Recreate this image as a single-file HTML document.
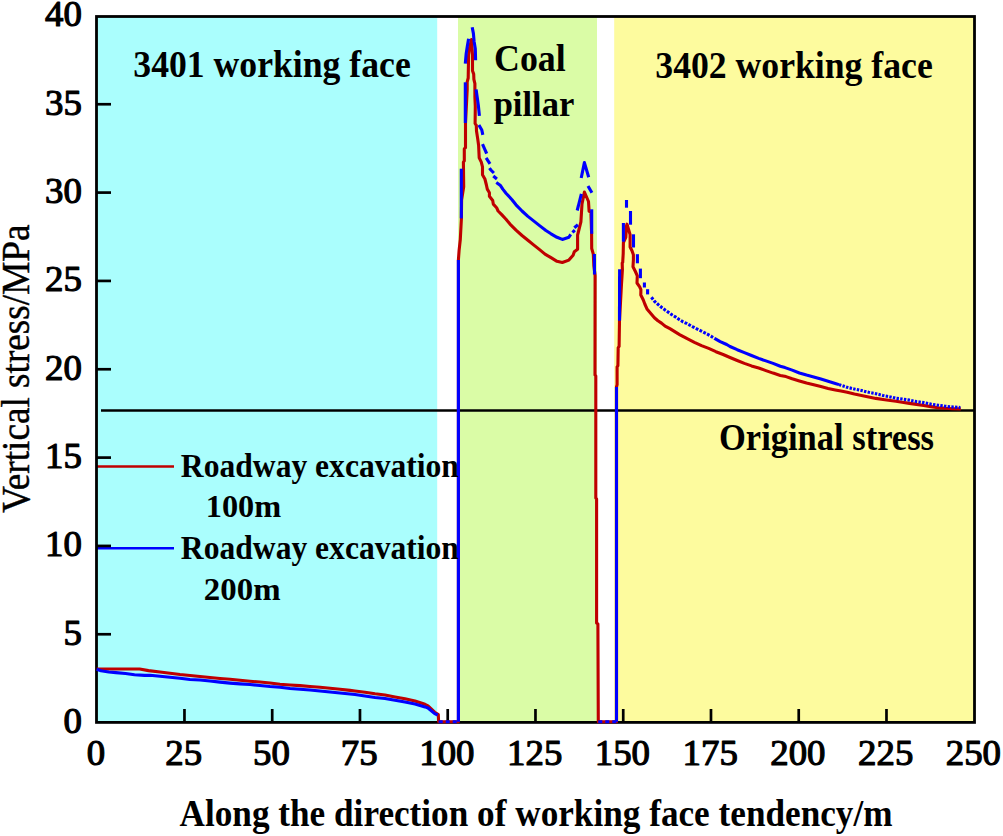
<!DOCTYPE html>
<html><head><meta charset="utf-8"><style>
html,body{margin:0;padding:0;background:#fff;}
svg{display:block;}
.r{font-family:"Liberation Serif",serif;font-weight:normal;fill:#000;stroke:#000;stroke-width:1.2px;stroke-linejoin:round;}
.n{font-family:"Liberation Serif",serif;font-weight:normal;fill:#000;stroke:#000;stroke-width:0.4px;}
.b{font-family:"Liberation Serif",serif;font-weight:bold;fill:#000;}
</style></head><body>
<svg width="1003" height="836" viewBox="0 0 1003 836">
<rect x="96.7" y="16.5" width="340.5" height="706" fill="#aafefd"/>
<rect x="458" y="16.5" width="139" height="706" fill="#dafca6"/>
<rect x="614.2" y="16.5" width="360.3" height="706" fill="#fdfb9e"/>
<line x1="101" y1="410.4" x2="974.5" y2="410.4" stroke="#000" stroke-width="2.5"/>
<line x1="96.7" y1="466.4" x2="174" y2="466.4" stroke="#bf0000" stroke-width="2.5"/>
<line x1="96.7" y1="548.3" x2="174" y2="548.3" stroke="#0000ff" stroke-width="2.5"/>
<line x1="96.7" y1="634.26" x2="111" y2="634.26" stroke="#000" stroke-width="2.7"/>
<line x1="96.7" y1="545.93" x2="111" y2="545.93" stroke="#000" stroke-width="2.7"/>
<line x1="96.7" y1="457.60" x2="111" y2="457.60" stroke="#000" stroke-width="2.7"/>
<line x1="96.7" y1="369.26" x2="111" y2="369.26" stroke="#000" stroke-width="2.7"/>
<line x1="96.7" y1="280.92" x2="111" y2="280.92" stroke="#000" stroke-width="2.7"/>
<line x1="96.7" y1="192.59" x2="111" y2="192.59" stroke="#000" stroke-width="2.7"/>
<line x1="96.7" y1="104.25" x2="111" y2="104.25" stroke="#000" stroke-width="2.7"/>
<line x1="184.46" y1="722.4" x2="184.46" y2="709" stroke="#000" stroke-width="2.7"/>
<line x1="272.21" y1="722.4" x2="272.21" y2="709" stroke="#000" stroke-width="2.7"/>
<line x1="359.97" y1="722.4" x2="359.97" y2="709" stroke="#000" stroke-width="2.7"/>
<line x1="447.72" y1="722.4" x2="447.72" y2="709" stroke="#000" stroke-width="2.7"/>
<line x1="535.47" y1="722.4" x2="535.47" y2="709" stroke="#000" stroke-width="2.7"/>
<line x1="623.23" y1="722.4" x2="623.23" y2="709" stroke="#000" stroke-width="2.7"/>
<line x1="710.98" y1="722.4" x2="710.98" y2="709" stroke="#000" stroke-width="2.7"/>
<line x1="798.73" y1="722.4" x2="798.73" y2="709" stroke="#000" stroke-width="2.7"/>
<line x1="886.48" y1="722.4" x2="886.48" y2="709" stroke="#000" stroke-width="2.7"/>
<rect x="96.5" y="16.5" width="878" height="705.9" fill="none" stroke="#000" stroke-width="2.8"/>
<polyline points="96.7,669.0 139.6,669.0 148.5,670.6 160.0,672.0 170.0,673.2 180.0,674.5 190.0,675.5 200.0,676.5 210.0,677.5 220.0,678.5 230.0,679.3 240.0,680.2 250.0,681.2 260.0,682.0 270.0,683.0 280.0,684.2 290.0,685.0 300.0,685.6 310.0,686.5 320.0,687.3 330.0,688.2 340.0,689.2 350.0,690.4 355.0,691.0 365.0,692.2 375.0,693.8 385.0,695.0 395.0,697.0 405.0,698.8 415.0,701.0 425.0,704.3 428.0,705.8 434.7,712.2 438.3,714.5 438.6,721.8 458.4,721.8 458.4,260.0 459.1,250.3 460.3,239.5 461.4,218.6 461.6,200.0 463.7,186.7 463.5,170.0 463.4,162.1 464.3,160.9 464.3,148.9 465.5,147.7 465.5,123.5 467.2,89.4 467.2,81.8 468.2,78.0 468.6,55.0 469.5,48.0 471.5,39.6 472.5,55.0 472.5,70.8 473.7,74.1 473.9,79.4 474.9,83.7 474.9,97.2 475.3,106.3 475.1,123.5 476.3,125.4 476.5,131.0 477.7,138.8 478.6,145.3 479.2,157.9 481.3,162.1 482.5,166.9 482.5,174.8 484.9,179.0 486.4,185.0 487.3,189.1 489.4,192.7 489.4,196.3 492.7,200.5 493.3,204.1 496.6,207.7 498.1,211.0 501.7,214.6 506.0,219.2 510.0,224.1 516.0,230.1 522.0,235.5 527.9,240.3 533.9,245.1 539.9,249.9 545.0,254.1 551.0,257.7 557.0,261.3 562.3,262.5 568.9,260.1 573.1,255.3 574.3,251.7 577.6,249.3 577.6,235.0 579.1,229.0 580.9,221.8 582.0,204.0 584.4,192.0 588.5,201.5 589.1,211.1 590.9,212.3 591.6,233.8 591.7,248.5 593.3,254.2 593.9,266.1 595.1,275.7 595.0,375.0 595.8,376.0 595.8,498.0 596.6,499.0 596.6,623.0 597.9,624.0 598.3,721.8 616.5,721.8 616.5,387.0 617.1,384.7 617.1,366.8 617.9,365.6 618.2,347.6 619.1,346.4 619.5,320.7 621.5,283.9 622.0,276.3 622.4,269.6 622.2,262.9 622.7,262.3 623.2,253.7 623.4,242.7 625.8,237.4 626.5,226.0 627.0,224.2 629.1,231.2 630.1,234.6 630.1,247.0 632.0,250.8 633.4,254.7 633.4,260.0 633.0,266.7 635.4,271.5 637.3,275.8 637.0,283.0 639.7,286.8 640.9,289.7 640.8,295.0 643.3,300.0 644.8,304.0 647.2,309.3 650.8,313.5 654.4,317.7 657.9,320.7 661.5,323.1 665.1,326.1 669.9,328.7 680.0,334.8 687.2,338.7 694.4,342.3 701.5,345.6 708.7,348.4 715.9,351.7 723.1,354.5 730.0,357.5 737.2,360.5 744.4,363.4 751.5,365.9 758.7,368.0 765.9,370.6 773.1,373.1 780.3,375.4 786.0,376.6 792.2,378.7 799.4,380.9 806.5,383.0 813.7,384.8 820.9,386.6 828.1,388.4 835.3,389.9 841.0,391.0 847.2,392.3 854.4,394.1 861.5,395.5 868.7,397.0 875.9,398.4 883.1,399.5 890.3,400.5 896.0,401.2 902.2,402.3 909.4,403.4 916.5,404.4 923.7,405.5 930.9,406.6 938.1,407.7 945.3,408.3 952.4,408.7 960.8,408.9" fill="none" stroke="#bf0000" stroke-width="3.1" stroke-linejoin="round"/>
<polyline points="96.7,669.3 101.0,670.8 108.8,672.0 115.9,672.6 125.5,673.5 134.5,674.7 144.6,675.4 150.0,675.2 160.0,676.2 170.0,677.2 180.0,678.2 190.0,679.5 200.0,680.0 210.0,681.0 220.0,682.1 230.0,683.1 240.0,683.9 250.0,684.5 260.0,685.5 270.0,686.5 280.0,687.2 290.0,688.5 300.0,689.2 310.0,690.0 320.0,691.0 330.0,692.0 340.0,693.0 345.0,693.5 355.0,694.5 365.0,696.0 375.0,697.5 385.0,698.5 395.0,700.2 405.0,702.0 415.0,704.1 425.0,706.9 428.0,708.0 434.7,713.6 437.7,715.0" fill="none" stroke="#0000ff" stroke-width="3.1" stroke-linejoin="round"/>
<polyline points="438.7,721.8 458.4,721.8" fill="none" stroke="#0000ff" stroke-width="3.1" stroke-linejoin="round" stroke-dasharray="4 3"/>
<polyline points="458.4,721.8 458.4,259.9" fill="none" stroke="#0000ff" stroke-width="3.1" stroke-linejoin="round"/>
<polyline points="461.3,218.4 461.3,168.7" fill="none" stroke="#0000ff" stroke-width="3.1" stroke-linejoin="round"/>
<polyline points="465.3,123.0 465.3,82.3" fill="none" stroke="#0000ff" stroke-width="3.1" stroke-linejoin="round"/>
<polyline points="465.3,63.6 466.2,53.5 467.4,45.8 468.6,38.7" fill="none" stroke="#0000ff" stroke-width="3.1" stroke-linejoin="round"/>
<polyline points="472.2,27.2 473.4,33.4 474.1,41.5 475.3,48.7 475.6,60.3" fill="none" stroke="#0000ff" stroke-width="3.1" stroke-linejoin="round"/>
<polyline points="476.1,89.4 477.2,97.2 478.4,105.8 479.4,115.8" fill="none" stroke="#0000ff" stroke-width="3.1" stroke-linejoin="round"/>
<polyline points="478.9,124.9 481.8,130.0 482.8,134.9" fill="none" stroke="#0000ff" stroke-width="3.1" stroke-linejoin="round"/>
<polyline points="482.5,144.1 486.7,153.7" fill="none" stroke="#0000ff" stroke-width="3.1" stroke-linejoin="round"/>
<polyline points="486.1,157.9 490.0,163.9" fill="none" stroke="#0000ff" stroke-width="3.1" stroke-linejoin="round"/>
<polyline points="489.4,168.1 490.9,170.0 493.9,173.0" fill="none" stroke="#0000ff" stroke-width="3.1" stroke-linejoin="round"/>
<polyline points="493.3,176.0 496.9,179.0" fill="none" stroke="#0000ff" stroke-width="3.1" stroke-linejoin="round"/>
<polyline points="496.3,182.6 500.5,185.6 502.8,189.1 506.0,193.2 512.0,199.7 516.0,204.8 522.0,211.0 527.9,216.4 533.9,221.1 539.9,225.9 545.9,230.5 551.0,233.8 557.0,237.3 562.3,239.4 568.9,237.3 570.7,234.4" fill="none" stroke="#0000ff" stroke-width="3.1" stroke-linejoin="round"/>
<polyline points="572.5,232.5 574.8,230.2" fill="none" stroke="#0000ff" stroke-width="3.1" stroke-linejoin="round"/>
<polyline points="574.3,227.8 577.9,224.8" fill="none" stroke="#0000ff" stroke-width="3.1" stroke-linejoin="round"/>
<polyline points="577.2,210.5 581.4,193.8" fill="none" stroke="#0000ff" stroke-width="3.1" stroke-linejoin="round"/>
<polyline points="581.2,178.0 584.4,162.6 588.7,177.3" fill="none" stroke="#0000ff" stroke-width="3.1" stroke-linejoin="round"/>
<polyline points="588.0,185.9 591.9,192.7" fill="none" stroke="#0000ff" stroke-width="3.1" stroke-linejoin="round"/>
<polyline points="591.7,209.3 591.7,233.8" fill="none" stroke="#0000ff" stroke-width="3.1" stroke-linejoin="round"/>
<polyline points="594.4,254.1 594.5,274.5" fill="none" stroke="#0000ff" stroke-width="3.1" stroke-linejoin="round"/>
<polyline points="598.3,721.8 616.5,721.8" fill="none" stroke="#0000ff" stroke-width="3.1" stroke-linejoin="round" stroke-dasharray="4 3"/>
<polyline points="616.5,721.8 616.5,387.0" fill="none" stroke="#0000ff" stroke-width="3.1" stroke-linejoin="round"/>
<polyline points="619.5,320.7 619.6,269.3" fill="none" stroke="#0000ff" stroke-width="3.1" stroke-linejoin="round"/>
<polyline points="623.4,241.7 623.4,223.0" fill="none" stroke="#0000ff" stroke-width="3.1" stroke-linejoin="round"/>
<polyline points="626.5,207.7 626.5,200.0" fill="none" stroke="#0000ff" stroke-width="3.1" stroke-linejoin="round"/>
<polyline points="630.5,211.0 630.5,224.7" fill="none" stroke="#0000ff" stroke-width="3.1" stroke-linejoin="round"/>
<polyline points="633.5,234.3 633.5,247.5" fill="none" stroke="#0000ff" stroke-width="3.1" stroke-linejoin="round"/>
<polyline points="637.4,254.2 637.4,263.3" fill="none" stroke="#0000ff" stroke-width="3.1" stroke-linejoin="round"/>
<polyline points="640.4,268.6 640.4,278.2" fill="none" stroke="#0000ff" stroke-width="3.1" stroke-linejoin="round"/>
<polyline points="644.4,282.5 644.4,287.5" fill="none" stroke="#0000ff" stroke-width="3.1" stroke-linejoin="round"/>
<polyline points="647.6,289.2 647.6,294.4" fill="none" stroke="#0000ff" stroke-width="3.1" stroke-linejoin="round"/>
<polyline points="651.4,297.3 654.7,301.5 658.5,304.8 662.1,307.8 665.4,310.2 669.3,312.9 672.3,315.0 676.2,317.4 679.2,319.5 683.1,321.9 686.5,323.4 692.9,326.9 700.8,330.8 707.3,334.1 710.9,336.2 714.5,338.4" fill="none" stroke="#0000ff" stroke-width="3.1" stroke-linejoin="round" stroke-dasharray="2.8 1.4"/>
<polyline points="714.5,338.4 720.2,341.6 726.7,344.5 730.0,346.5 737.2,349.7 744.4,352.6 751.5,355.5 758.7,358.4 765.9,360.9 773.1,363.4 780.3,366.3 785.0,367.6 792.2,370.1 799.4,373.0 806.5,375.1 813.7,376.9 820.9,379.1 828.1,381.2 835.3,383.4 839.0,384.6" fill="none" stroke="#0000ff" stroke-width="3.1" stroke-linejoin="round"/>
<polyline points="839.0,384.6 841.0,385.3 847.2,387.3 854.4,389.0 861.5,390.5 868.7,392.3 875.9,393.7 883.1,395.5 890.3,396.9 896.0,398.3 902.2,399.0 909.4,400.1 916.5,401.6 923.7,402.6 930.9,404.1 938.1,405.2 945.3,406.2 952.4,406.9 960.4,407.5" fill="none" stroke="#0000ff" stroke-width="3.1" stroke-linejoin="round" stroke-dasharray="2.4 1.3"/>
<text x="81.9" y="733.1" text-anchor="end" class="r" font-size="36.8">0</text>
<text x="81.9" y="644.8" text-anchor="end" class="r" font-size="36.8">5</text>
<text x="81.9" y="556.4" text-anchor="end" class="r" font-size="36.8">10</text>
<text x="81.9" y="468.1" text-anchor="end" class="r" font-size="36.8">15</text>
<text x="81.9" y="379.8" text-anchor="end" class="r" font-size="36.8">20</text>
<text x="81.9" y="291.4" text-anchor="end" class="r" font-size="36.8">25</text>
<text x="81.9" y="203.1" text-anchor="end" class="r" font-size="36.8">30</text>
<text x="81.9" y="114.8" text-anchor="end" class="r" font-size="36.8">35</text>
<text x="81.9" y="26.4" text-anchor="end" class="r" font-size="36.8">40</text>
<text x="95.9" y="765" text-anchor="middle" class="r" font-size="36.8">0</text>
<text x="183.7" y="765" text-anchor="middle" class="r" font-size="36.8">25</text>
<text x="271.4" y="765" text-anchor="middle" class="r" font-size="36.8">50</text>
<text x="359.2" y="765" text-anchor="middle" class="r" font-size="36.8">75</text>
<text x="446.9" y="765" text-anchor="middle" class="r" font-size="36.8">100</text>
<text x="534.7" y="765" text-anchor="middle" class="r" font-size="36.8">125</text>
<text x="622.4" y="765" text-anchor="middle" class="r" font-size="36.8">150</text>
<text x="710.2" y="765" text-anchor="middle" class="r" font-size="36.8">175</text>
<text x="797.9" y="765" text-anchor="middle" class="r" font-size="36.8">200</text>
<text x="885.7" y="765" text-anchor="middle" class="r" font-size="36.8">225</text>
<text x="973.4" y="765" text-anchor="middle" class="r" font-size="36.8">250</text>
<text transform="translate(133.29,76.8) scale(1,1.06)" class="b" font-size="35.69">3401 working face</text>
<text transform="translate(655.29,78) scale(1,1.06)" class="b" font-size="35.7">3402 working face</text>
<text transform="translate(494.01,70.8) scale(1,1.03)" class="b" font-size="35.84">Coal</text>
<text transform="translate(493.64,115.7) scale(1,1.043)" class="b" font-size="34.57">pillar</text>
<text transform="translate(718.97,450.1) scale(1,1.1)" class="b" font-size="34.53">Original stress</text>
<text transform="translate(180.87,476.7) scale(1,1.042)" class="b" font-size="31.58">Roadway excavation</text>
<text transform="translate(205.71,517.4) scale(1,0.99)" class="b" font-size="32.37">100m</text>
<text transform="translate(180.87,558.5) scale(1,1.042)" class="b" font-size="31.58">Roadway excavation</text>
<text transform="translate(203.87,599.8) scale(1,0.99)" class="b" font-size="32.9">200m</text>
<text transform="translate(179.55,826) scale(1,1.089)" class="b" font-size="35.21">Along the direction of working face tendency/m</text>
<text transform="translate(29.07,512.97) rotate(-90) scale(1,1.071)" class="n" font-size="37.24">Vertical stress/MPa</text>
</svg>
</body></html>
